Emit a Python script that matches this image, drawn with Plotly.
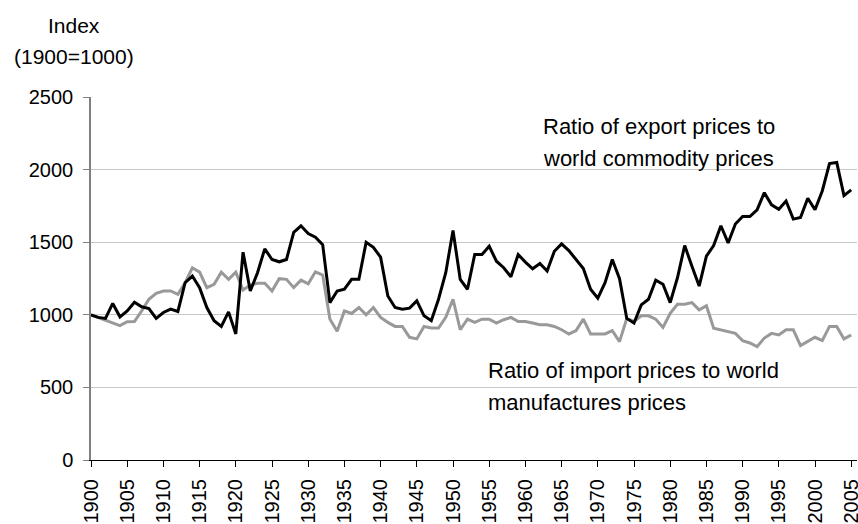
import plotly.graph_objects as go

years = list(range(1900, 2006))

export_ratio = [
    1000, 982, 975, 1078, 986, 1027, 1087, 1055, 1043, 975,
    1016, 1039, 1023, 1221, 1267, 1187, 1050, 959, 920, 1020,
    868, 1431, 1164, 1290, 1454, 1381, 1365, 1381, 1568, 1613,
    1559, 1534, 1483, 1084, 1164, 1176, 1244, 1244, 1499, 1465,
    1397, 1130, 1050, 1039, 1046, 1096, 993, 959, 1107, 1290,
    1581, 1244, 1176, 1415, 1415, 1472, 1369, 1324, 1262, 1415,
    1363, 1317, 1353, 1301, 1438, 1488, 1442, 1381, 1319, 1176,
    1114, 1221, 1381, 1249, 975, 943, 1068, 1107, 1239, 1210,
    1084, 1255, 1477, 1335, 1198, 1404, 1477, 1613, 1495, 1625,
    1677, 1677, 1723, 1841, 1757, 1727, 1784, 1659, 1670, 1803,
    1723, 1853, 2042, 2049, 1821, 1860,
]

import_ratio = [
    1000, 982, 964, 948, 925, 952, 954, 1027, 1107, 1148,
    1164, 1164, 1141, 1221, 1324, 1294, 1187, 1210, 1294, 1244,
    1294, 1171, 1205, 1217, 1217, 1164, 1249, 1244, 1187, 1239,
    1214, 1296, 1274, 970, 886, 1027, 1009, 1050, 1000, 1050,
    982, 948, 920, 920, 845, 834, 920, 909, 909, 982,
    1107, 897, 970, 948, 970, 970, 943, 966, 982, 954,
    954, 943, 932, 932, 920, 897, 868, 891, 970, 868,
    868, 868, 891, 815, 975, 954, 993, 993, 970, 913,
    1010, 1073, 1073, 1084, 1034, 1062, 907, 895, 886, 872,
    822, 806, 781, 840, 872, 861, 897, 897, 788, 815,
    845, 822, 920, 920, 834, 861,
]

x_ticks = list(range(1900, 2006, 5))
y_ticks = [0, 500, 1000, 1500, 2000, 2500]

FONT = "Liberation Sans, Arial, sans-serif"
FS_TICK = 20
FS_ANN = 22
FS_TITLE = 21

fig = go.Figure()
fig.add_trace(go.Scatter(x=years, y=import_ratio, mode="lines",
                         line=dict(color="#999999", width=3), showlegend=False))
fig.add_trace(go.Scatter(x=years, y=export_ratio, mode="lines",
                         line=dict(color="#000000", width=3), showlegend=False))

W, H = 858, 524
L, R, T, B = 91, 1, 97, 64
pw = W - L - R
ph = H - T - B

def px(xp):
    return (xp - L) / pw

def py(yp):
    return (H - B - yp) / ph

annos = [
    ("Ratio of export prices to", 541, 126),
    ("world commodity prices", 541, 158),
    ("Ratio of import prices to world", 486, 370),
    ("manufactures prices", 486, 402),
]
for text, xp, yp in annos:
    fig.add_annotation(text=text, xref="paper", yref="paper", x=px(xp), y=py(yp),
                       xanchor="left", yanchor="middle", showarrow=False,
                       font=dict(family=FONT, size=FS_ANN, color="#000000"))

for text, yp in [("Index", 26), ("(1900=1000)", 56)]:
    fig.add_annotation(text=text, xref="paper", yref="paper", x=px(74), y=py(yp),
                       xanchor="center", yanchor="middle", showarrow=False,
                       font=dict(family=FONT, size=FS_TITLE, color="#000000"))

fig.update_layout(
    width=W, height=H,
    margin=dict(l=L, r=R, t=T, b=B, autoexpand=False),
    paper_bgcolor="white", plot_bgcolor="white",
    font=dict(family=FONT, size=FS_TICK, color="#000000"),
    xaxis=dict(range=[1900, 2005.8], tickmode="array", tickvals=x_ticks,
               ticktext=[str(v) for v in x_ticks], tickangle=-90, automargin=False,
               ticklabeloverflow="allow", ticklabelstandoff=4,
               showgrid=False, zeroline=False, showline=True, linecolor="#000000",
               linewidth=1, ticks="outside", ticklen=6, tickcolor="#000000",
               tickfont=dict(family=FONT, size=FS_TICK)),
    yaxis=dict(range=[0, 2500], tickmode="array", tickvals=y_ticks, automargin=False,
               ticklabeloverflow="allow", ticklabelstandoff=6,
               showgrid=True, gridcolor="#c8c8c8", gridwidth=1, zeroline=False,
               showline=True, linecolor="#808080", linewidth=1.5,
               ticks="outside", ticklen=6, tickcolor="#808080",
               tickfont=dict(family=FONT, size=FS_TICK)),
)

fig.write_html("out.html", config={"displayModeBar": False},
               post_script="document.body.style.margin='0';document.body.style.overflow='hidden';")
